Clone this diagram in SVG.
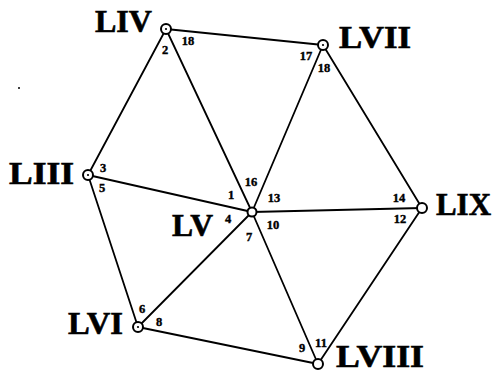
<svg xmlns="http://www.w3.org/2000/svg" width="494" height="374" viewBox="0 0 494 374">
<style>
.e{stroke:#000;stroke-width:1.8;fill:none;stroke-linecap:round}
.n{fill:#fff;stroke:#000;stroke-width:2}
.d{fill:#000}
.lb{font-family:"Liberation Serif","Times New Roman",serif;font-weight:bold;font-size:31px;fill:#000;stroke:#000;stroke-width:0.6}
.num{font-family:"Liberation Serif","Times New Roman",serif;font-weight:bold;font-size:12.5px;fill:#000;stroke:#000;stroke-width:0.4;text-anchor:middle}
</style>
<rect width="494" height="374" fill="#fff"/>
<g id="connectors">
<line class="e" x1="166" y1="29" x2="323" y2="45"/>
<line class="e" x1="323" y1="45" x2="422" y2="208"/>
<line class="e" x1="422" y1="208" x2="318" y2="364"/>
<line class="e" x1="318" y1="364" x2="138" y2="327"/>
<line class="e" x1="138" y1="327" x2="88" y2="175"/>
<line class="e" x1="88" y1="175" x2="166" y2="29"/>
<line class="e" x1="252" y1="212" x2="166" y2="29"/>
<line class="e" x1="252" y1="212" x2="323" y2="45"/>
<line class="e" x1="252" y1="212" x2="422" y2="208"/>
<line class="e" x1="252" y1="212" x2="318" y2="364"/>
<line class="e" x1="252" y1="212" x2="138" y2="327"/>
<line class="e" x1="252" y1="212" x2="88" y2="175"/>
</g>
<g id="LIV">
<circle class="n" cx="166" cy="29" r="5"/><circle class="d" cx="166" cy="29" r="1.1"/>
<text class="lb" x="95" y="32" textLength="57" lengthAdjust="spacingAndGlyphs">LIV</text>
<text class="num" x="165" y="54">2</text>
<text class="num" x="188" y="45">18</text>
</g>
<g id="LVII">
<circle class="n" cx="323" cy="45" r="5"/><circle class="d" cx="323" cy="45" r="1.1"/>
<text class="lb" x="339" y="48" textLength="72" lengthAdjust="spacingAndGlyphs">LVII</text>
<text class="num" x="306" y="60">17</text>
<text class="num" x="324" y="72">18</text>
</g>
<g id="LIII">
<circle class="n" cx="88" cy="175" r="5"/><circle class="d" cx="88" cy="175" r="1.1"/>
<text class="lb" x="9" y="184" textLength="65" lengthAdjust="spacingAndGlyphs">LIII</text>
<text class="num" x="103" y="172">3</text>
<text class="num" x="102" y="192">5</text>
</g>
<g id="LV">
<circle class="n" cx="252" cy="212" r="4.5"/>
<text class="lb" x="172" y="236" textLength="41" lengthAdjust="spacingAndGlyphs">LV</text>
<text class="num" x="251" y="186">16</text>
<text class="num" x="231" y="199">1</text>
<text class="num" x="274" y="202">13</text>
<text class="num" x="228" y="223">4</text>
<text class="num" x="273" y="229">10</text>
<text class="num" x="249" y="241">7</text>
</g>
<g id="LIX">
<circle class="n" cx="422" cy="208" r="5"/>
<text class="lb" x="436" y="215" textLength="55" lengthAdjust="spacingAndGlyphs">LIX</text>
<text class="num" x="399" y="202">14</text>
<text class="num" x="400" y="223">12</text>
</g>
<g id="LVIII">
<circle class="n" cx="318" cy="364" r="5"/>
<text class="lb" x="336" y="367" textLength="88" lengthAdjust="spacingAndGlyphs">LVIII</text>
<text class="num" x="302" y="352">9</text>
<text class="num" x="321" y="347">11</text>
</g>
<g id="LVI">
<circle class="n" cx="138" cy="327" r="5"/><circle class="d" cx="138" cy="327" r="1.1"/>
<text class="lb" x="68" y="334" textLength="55" lengthAdjust="spacingAndGlyphs">LVI</text>
<text class="num" x="142" y="313">6</text>
<text class="num" x="159" y="326">8</text>
</g>
<circle class="d" cx="19" cy="88" r="1"/>
</svg>
